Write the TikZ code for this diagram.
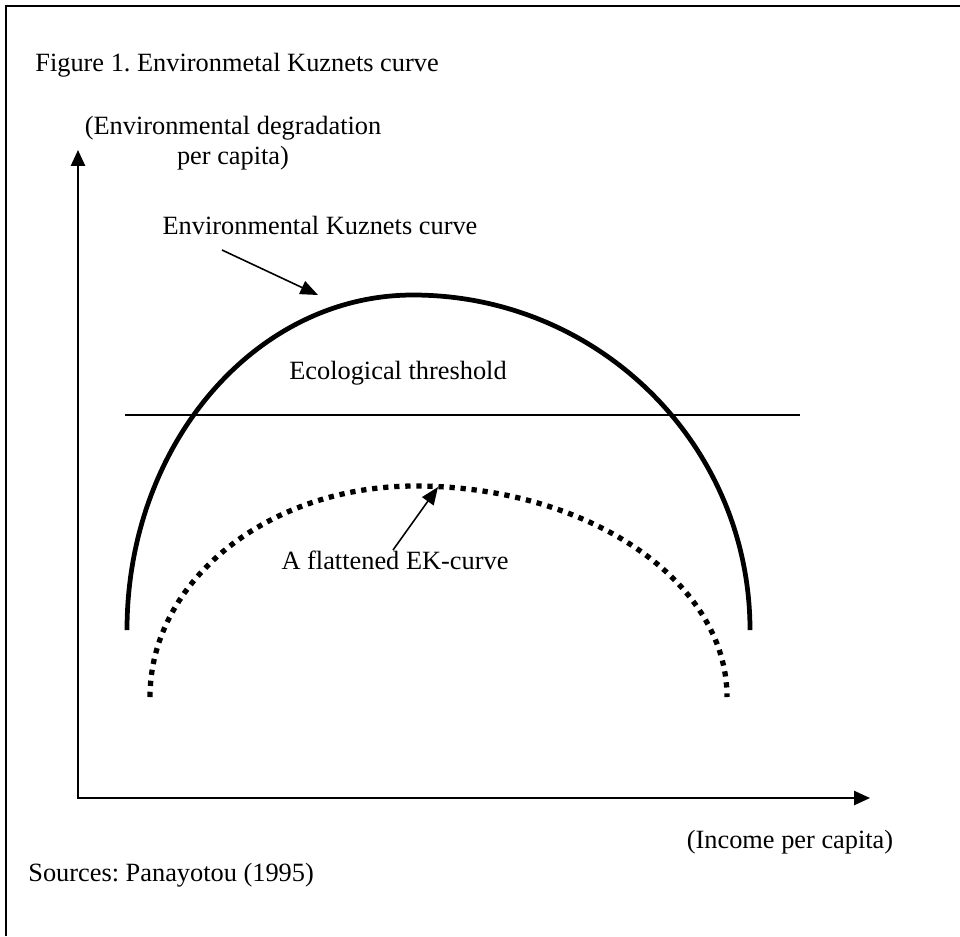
\documentclass[tikz,border=0pt]{standalone}
\usepackage{fontspec}
\setmainfont{Liberation Serif}
\usetikzlibrary{arrows.meta}
\frenchspacing

\begin{document}
\begin{tikzpicture}[
    txt/.style={
        inner sep=0pt,
        font=\fontsize{15}{17}\selectfont
    },
    axisarrow/.style={
        line width=1.1pt,
        {Triangle[length=9pt,width=8pt]}-{Triangle[length=9pt,width=8pt]}
    },
    pointer/.style={
        line width=0.9pt,
        -{Triangle[length=10pt,width=8pt]}
    },
    ekcline/.style={
        line width=2.7pt
    },
    flatline/.style={
        line width=3pt,
        dash pattern=on 3pt off 3.3pt
    }
]

\useasboundingbox (0,0) rectangle (19.2,-18.72);
\draw[line width=1.1pt] (0.12,-18.72) -- (0.12,-0.12) -- (19.2,-0.12);

\node[txt, anchor=west] (title) at (0.7,-1.3) {Figure 1. Environmetal Kuznets curve};
\node[txt, align=center] (ylabel) at (4.66,-2.86) {(Environmental degradation\\ per capita)};
\node[txt] (xlabel) at (15.8,-16.84) {(Income per capita)};
\node[txt, anchor=west] (source) at (0.56,-17.5) {Sources: Panayotou (1995)};

\coordinate (origin) at (1.56,-15.96);
\coordinate (ytip) at (1.56,-3.0);
\coordinate (xtip) at (17.4,-15.96);
\draw[axisarrow] (ytip) -- (origin) -- (xtip);

\draw[ekcline] (2.54,-12.6) arc[start angle=180, end angle=90, x radius=5.72cm, y radius=6.7cm]
    arc[start angle=90, end angle=0, x radius=6.74cm, y radius=6.7cm];
\draw[flatline] (3.0,-13.94) arc[start angle=180, end angle=90, x radius=5.3cm, y radius=4.22cm]
    arc[start angle=90, end angle=0, x radius=6.24cm, y radius=4.22cm];

\coordinate (threshleft) at (2.5,-8.3);
\coordinate (threshright) at (16,-8.3);
\draw[line width=0.8pt] (threshleft) -- (threshright);
\node[txt] (thresh) at (7.96,-7.46) {Ecological threshold};

\node[txt] (ekc) at (6.4,-4.5) {Environmental Kuznets curve};
\coordinate (ekcfrom) at (4.44,-5.0);
\coordinate (ekcto) at (6.36,-5.9);
\draw[pointer] (ekcfrom) -- (ekcto);

\node[txt] (flat) at (7.9,-11.2) {A flattened EK-curve};
\coordinate (flatfrom) at (7.86,-11.0);
\coordinate (flatto) at (8.76,-9.74);
\draw[pointer] (flatfrom) -- (flatto);

\end{tikzpicture}
\end{document}
